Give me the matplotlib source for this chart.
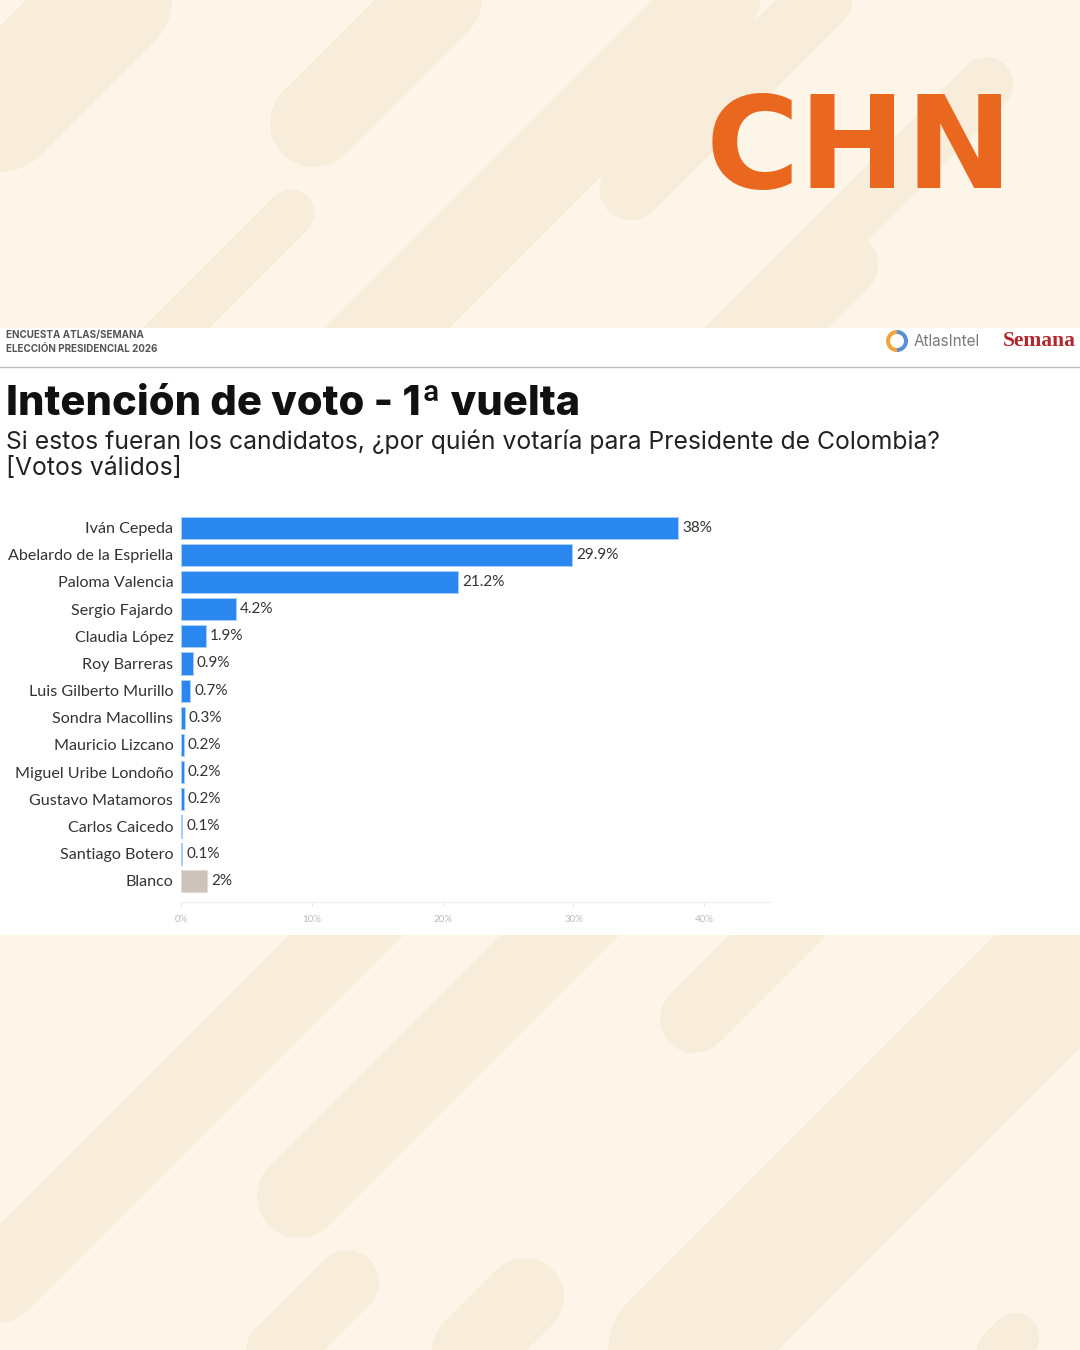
import matplotlib
matplotlib.use("Agg")
import matplotlib.pyplot as plt
from matplotlib.patches import Rectangle, Wedge

candidates = ["Iván Cepeda", "Abelardo de la Espriella", "Paloma Valencia", "Sergio Fajardo",
              "Claudia López", "Roy Barreras", "Luis Gilberto Murillo", "Sondra Macollins",
              "Mauricio Lizcano", "Miguel Uribe Londoño", "Gustavo Matamoros", "Carlos Caicedo",
              "Santiago Botero", "Blanco"]
values = [38, 29.9, 21.2, 4.2, 1.9, 0.9, 0.7, 0.3, 0.2, 0.2, 0.2, 0.1, 0.1, 2]
value_labels = ["38%", "29.9%", "21.2%", "4.2%", "1.9%", "0.9%", "0.7%", "0.3%", "0.2%",
                "0.2%", "0.2%", "0.1%", "0.1%", "2%"]
x_ticks = [0, 10, 20, 30, 40]
x_tick_labels = ["0%", "10%", "20%", "30%", "40%"]

W, H = 1080, 1350
fig = plt.figure(figsize=(10.8, 13.5), dpi=100)
fig.patch.set_facecolor("#FCF5E8")

# background / decoration layer in pixel coordinates
bg = fig.add_axes([0, 0, 1, 1])
bg.set_xlim(0, W)
bg.set_ylim(H, 0)
bg.axis("off")
bg.set_facecolor("none")

stripe = "#F8ECDA"
stripes = [
    # top area
    ((-100, 211), (211, -100), 120),
    ((314, 123), (537, -100), 88),
    ((291, 213), (100, 404), 47),
    ((815, -100), (300, 415), 88),
    ((631, 189), (920, -100), 63),
    ((986, 84), (600, 470), 54),
    ((845, 265), (700, 410), 66),
    # bottom area
    ((450, 831), (-100, 1381), 81),
    ((299, 1196), (660, 835), 84),
    ((694, 1019), (900, 813), 68),
    ((1300, 729), (600, 1429), 140),
    ((347, 1282), (200, 1429), 64),
    ((525, 1297), (393, 1429), 78),
    ((1015, 1337), (920, 1432), 48),
]
for (x0, y0), (x1, y1), w in stripes:
    bg.plot([x0, x1], [y0, y1], color=stripe, lw=w * 72 / 100, solid_capstyle="round", zorder=0)

# white chart panel
bg.add_patch(Rectangle((0, 328), W, 607, facecolor="white", edgecolor="none", zorder=1))
bg.plot([0, W], [367, 367], color="#BDBDBD", lw=1.0, zorder=2)

# CHN logo
bg.text(706, 188, "CHN", fontsize=92, fontweight="bold", family="DejaVu Sans",
        color="#E9671F", ha="left", va="baseline", zorder=3)

# header small texts
bg.text(6, 335, "ENCUESTA ATLAS/SEMANA", fontsize=7.1, fontweight="bold", family="Inter",
        color="#555555", ha="left", va="center", zorder=3)
bg.text(6, 349, "ELECCIÓN PRESIDENCIAL 2026", fontsize=7.1, fontweight="bold", family="Inter",
        color="#555555", ha="left", va="center", zorder=3)

# AtlasIntel icon + text
bg.add_patch(Wedge((897, 341), 11, 90, 270, width=4, facecolor="#F2A33A", edgecolor="none", zorder=3))
bg.add_patch(Wedge((897, 341), 11, -90, 90, width=4, facecolor="#5A8FD6", edgecolor="none", zorder=3))
bg.text(914, 341, "AtlasIntel", fontsize=11, family="Inter", color="#7A7A7A",
        ha="left", va="center", zorder=3)
bg.text(1003, 341, "Semana", fontsize=15.5, fontweight="bold", family="Liberation Serif",
        color="#B3262D", ha="left", va="center", zorder=3)

# title and subtitle
bg.text(6, 404, "Intención de voto - 1ª vuelta", fontsize=30, fontweight="heavy", family="Inter",
        color="#111111", ha="left", va="center", zorder=3)
bg.text(6, 442, "Si estos fueran los candidatos, ¿por quién votaría para Presidente de Colombia?",
        fontsize=17.8, family="Inter", color="#222222", ha="left", va="center", zorder=3)
bg.text(6, 469, "[Votos válidos]", fontsize=17.8, family="Inter", color="#222222",
        ha="left", va="center", zorder=3)

# bar chart axes
left, right, top, bottom = 181, 771, 510, 902
ax = fig.add_axes([left / W, 1 - bottom / H, (right - left) / W, (bottom - top) / H])
ax.set_facecolor("none")
colors = ["#2B87F0"] * (len(candidates) - 1) + ["#CDC3BC"]
edges = ["#A8CFF8"] * (len(candidates) - 1) + ["#E2DAD4"]
ypos = list(range(len(candidates)))
ax.barh(ypos, values, height=0.82, color=colors, edgecolor=edges, linewidth=0.7, zorder=2)
for y, v, lab in zip(ypos, values, value_labels):
    ax.text(v + 0.3, y, lab, fontsize=11, family="Lato", color="#333333",
            ha="left", va="center")
ax.set_xlim(0, 45.1)
ax.set_ylim(13.78, -0.65)
ax.set_yticks(ypos)
ax.set_yticklabels(candidates, fontsize=11.6, family="Lato", color="#333333")
ax.tick_params(axis="y", length=0, pad=5.5)
ax.set_xticks(x_ticks)
ax.set_xticklabels(x_tick_labels, fontsize=7, family="Lato", color="#BBBBBB")
ax.tick_params(axis="x", length=3, color="#E6E6E6", pad=6)
for s in ["top", "right", "left"]:
    ax.spines[s].set_visible(False)
ax.spines["bottom"].set_color("#EEEEEE")

fig.savefig("out.png", dpi=100, facecolor=fig.get_facecolor())
